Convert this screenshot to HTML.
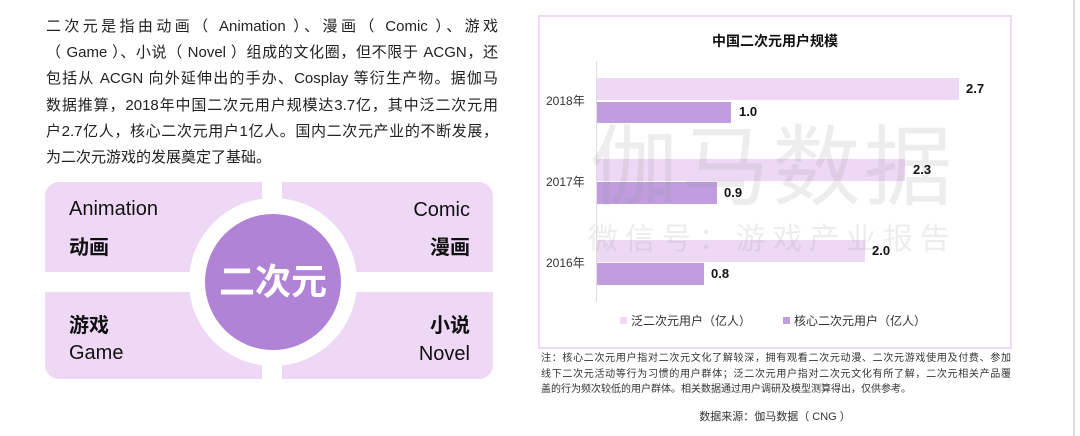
<!DOCTYPE html>
<html><head><meta charset="utf-8"><style>
body{margin:0;width:1080px;height:436px;background:#fff;position:relative;overflow:hidden;font-family:"Liberation Sans","Noto Sans CJK SC",sans-serif;color:#222}
.a{position:absolute}
.p{left:46px;top:14px;width:452px;font-size:15px;line-height:26.2px}
.p div,.n div{text-align:justify;text-align-last:justify;white-space:nowrap}
.p div.l,.n div.l{text-align-last:left}
.q{background:#efd8f6;position:absolute}
.en{font-size:20px;color:#111;position:absolute}
.cn{font-size:20px;font-weight:bold;color:#111;position:absolute}
.wm{display:flex;justify-content:space-between;color:rgba(150,150,150,0.17)}
</style></head><body>
<div class="a p">
<div>二次元是指由动画（ Animation ）、漫画（ Comic ）、游戏</div>
<div>（ Game ）、小说（ Novel ）组成的文化圈，但不限于 ACGN，还</div>
<div>包括从 ACGN 向外延伸出的手办、Cosplay 等衍生产物。据伽马</div>
<div>数据推算，2018年中国二次元用户规模达3.7亿，其中泛二次元用</div>
<div>户2.7亿人，核心二次元用户1亿人。国内二次元产业的不断发展，</div>
<div class="l">为二次元游戏的发展奠定了基础。</div>
</div>
<div class="q" style="left:45px;top:182px;width:217px;height:90px;border-top-left-radius:14px"></div>
<div class="q" style="left:282px;top:182px;width:211px;height:90px;border-top-right-radius:14px"></div>
<div class="q" style="left:45px;top:292px;width:217px;height:87px;border-bottom-left-radius:14px"></div>
<div class="q" style="left:282px;top:292px;width:211px;height:87px;border-bottom-right-radius:14px"></div>
<div class="a" style="left:189px;top:198px;width:168px;height:168px;border-radius:50%;background:#fff"></div>
<div class="a" style="left:205px;top:214px;width:136px;height:136px;border-radius:50%;background:#b083d6;color:#fff;font-size:36px;font-weight:bold;text-align:center;line-height:136px">二次元</div>
<div class="en" style="left:69px;top:198px">Animation</div>
<div class="cn" style="left:69px;top:231px">动画</div>
<div class="en" style="right:610px;top:199px">Comic</div>
<div class="cn" style="right:610px;top:231px">漫画</div>
<div class="cn" style="left:69px;top:309px">游戏</div>
<div class="en" style="left:69px;top:342px">Game</div>
<div class="cn" style="right:610px;top:309px">小说</div>
<div class="en" style="right:610px;top:343px">Novel</div>

<div class="a" style="left:538px;top:15px;width:470px;height:330px;border:2px solid #f0d9f6"></div>
<div class="a" style="left:538px;top:31px;width:474px;text-align:center;font-weight:bold;font-size:14px;color:#111">中国二次元用户规模</div>
<div class="a" style="left:596px;top:61px;width:1px;height:241px;background:#ddd"></div>
<div class="a" style="left:597px;top:78px;width:362px;height:22px;background:#efd8f6"></div>
<div class="a" style="left:597px;top:102px;width:134px;height:21px;background:#c19de0"></div>
<div class="a" style="left:597px;top:159px;width:308px;height:22px;background:#efd8f6"></div>
<div class="a" style="left:597px;top:182px;width:120px;height:22px;background:#c19de0"></div>
<div class="a" style="left:597px;top:240px;width:268px;height:22px;background:#efd8f6"></div>
<div class="a" style="left:597px;top:263px;width:107px;height:22px;background:#c19de0"></div>
<div class="a wm" style="left:590px;top:118px;width:362px;font-size:88px;line-height:100px"><span>伽</span><span>马</span><span>数</span><span>据</span></div>
<div class="a wm" style="left:588px;top:222px;width:362px;font-size:30px;line-height:36px"><span>微</span><span>信</span><span>号</span><span>：</span><span>游</span><span>戏</span><span>产</span><span>业</span><span>报</span><span>告</span></div>
<div class="a" style="left:546px;top:92px;font-size:12px;color:#333">2018年</div>
<div class="a" style="left:546px;top:173px;font-size:12px;color:#333">2017年</div>
<div class="a" style="left:546px;top:254px;font-size:12px;color:#333">2016年</div>
<div class="a" style="font-weight:bold;font-size:13px;color:#111;left:966px;top:81px">2.7</div>
<div class="a" style="font-weight:bold;font-size:13px;color:#111;left:739px;top:104px">1.0</div>
<div class="a" style="font-weight:bold;font-size:13px;color:#111;left:913px;top:162px">2.3</div>
<div class="a" style="font-weight:bold;font-size:13px;color:#111;left:724px;top:185px">0.9</div>
<div class="a" style="font-weight:bold;font-size:13px;color:#111;left:872px;top:243px">2.0</div>
<div class="a" style="font-weight:bold;font-size:13px;color:#111;left:711px;top:266px">0.8</div>
<div class="a" style="left:620px;top:317px;width:7px;height:7px;background:#efd8f6"></div>
<div class="a" style="left:631px;top:312px;font-size:12px;color:#333">泛二次元用户（亿人）</div>
<div class="a" style="left:783px;top:317px;width:7px;height:7px;background:#c19de0"></div>
<div class="a" style="left:794px;top:312px;font-size:12px;color:#333">核心二次元用户（亿人）</div>
<div class="a n" style="left:541px;top:351px;width:470px;font-size:10px;line-height:15.5px;color:#333">
<div>注：核心二次元用户指对二次元文化了解较深，拥有观看二次元动漫、二次元游戏使用及付费、参加</div>
<div>线下二次元活动等行为习惯的用户群体；泛二次元用户指对二次元文化有所了解，二次元相关产品覆</div>
<div class="l">盖的行为频次较低的用户群体。相关数据通过用户调研及模型测算得出，仅供参考。</div>
</div>
<div class="a" style="left:538px;top:408px;width:474px;text-align:center;font-size:11px;color:#333">数据来源：伽马数据（ CNG ）</div>
<div class="a" style="left:1073px;top:0;width:2px;height:436px;background:#ddd"></div>
</body></html>
